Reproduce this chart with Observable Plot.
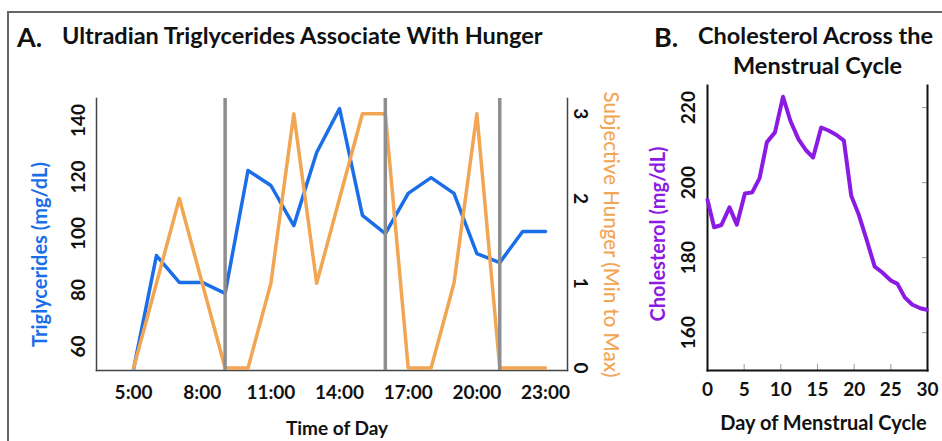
<!DOCTYPE html>
<html><head><meta charset="utf-8">
<script src="https://cdn.jsdelivr.net/npm/d3@7"></script>
<script src="https://cdn.jsdelivr.net/npm/@observablehq/plot@0.6"></script>
<style>
body{margin:0;background:#fff;font-family:Lato,sans-serif;}
#fig{position:relative;width:942px;height:441px;overflow:hidden;background:#fff;}
#border{position:absolute;left:7px;top:11px;width:1000px;height:1000px;border-left:2px solid #666;border-top:2px solid #666;}
.t{position:absolute;font-weight:700;color:#111;white-space:nowrap;line-height:1;font-family:Lato,sans-serif;}
.plot{position:absolute;top:0;}
</style></head><body>
<div id="fig">
  <div id="border"></div>
  <div class="t" style="left:17px;top:23px;font-size:27px">A.</div>
  <div class="t" style="left:62px;top:24px;font-size:23.5px">Ultradian Triglycerides Associate With Hunger</div>
  <div class="t" style="left:654px;top:23px;font-size:27px">B.</div>
  <div class="t" style="left:698px;top:24px;font-size:23.5px">Cholesterol Across the</div>
  <div class="t" style="left:733px;top:54px;font-size:23.5px">Menstrual Cycle</div>
</div>
<script>
// Panel A data
const hours = [5,6,7,8,9,10,11,12,13,14,15,16,17,18,19,20,21,22,23];
const triglycerides = [52,92.2,82.7,82.7,78.8,122.3,117,102.8,128.7,144.2,106.4,100,114.2,119.8,114.2,92.9,89.7,100.7,100.7];
const hunger = [0,1,2,1,0,0,1,3,1,2,3,3,0,0,1,3,0,0,0];
const mealTimes = [9,16,21];
const hourTicks = [5,8,11,14,17,20,23];
const trigTicks = [60,80,100,120,140];
const hungerTicks = [0,1,2,3];
// Panel B data
const cycleDays = [0,0.9,1.9,3.0,4.0,5.1,6.1,7.1,8.1,9.2,10.3,11.3,12.4,13.4,14.4,15.5,16.5,17.6,18.6,19.6,20.6,21.6,22.8,23.8,25.0,25.9,26.9,27.9,29.0,29.9];
const cholesterol = [195.4,188.1,188.7,193.4,188.8,197.1,197.4,201.2,210.8,213.4,222.9,216.5,211.6,208.7,206.7,214.7,213.9,212.7,211.2,196.5,191.6,185.4,177.6,176.1,173.9,173.0,169.4,167.5,166.5,166.1];
const dayTicks = [0,5,10,15,20,25,30];
const cholTicks = [160,180,200,220];

const BLUE = "#1a6ee8", ORANGE = "#f2a552", PURPLE = "#8b1ae3", GRAY = "#8e8e8e";
const FONT = "Lato, sans-serif";
const TICK_FS = 19;

const trigData = hours.map((h, i) => ({h, v: triglycerides[i]}));
const hungerData = hours.map((h, i) => ({h, v: hunger[i]}));
const cholData = cycleDays.map((d, i) => ({d, v: cholesterol[i]}));

const commonA = {width: 640, height: 441, marginLeft: 96, marginRight: 73, marginTop: 98, marginBottom: 71,
  style: {background: "transparent", fontFamily: FONT, overflow: "visible"}};
const xDomainA = [3.38, 23.96];

const plotTrig = Plot.plot({
  ...commonA,
  x: {domain: xDomainA, label: null},
  y: {domain: [51.5, 147.8], label: null},
  marks: [
    Plot.frame({anchor: "left", stroke: "#444", strokeWidth: 1.5}),
    Plot.frame({anchor: "bottom", stroke: "#444", strokeWidth: 1.5}),
    Plot.axisY(trigTicks, {anchor: "left", rotate: -90, textAnchor: "middle", tickSize: 0, tickPadding: 18, fontSize: TICK_FS, fontWeight: 700, fill: "#111", label: null}),
    Plot.axisX(hourTicks, {anchor: "bottom", tickSize: 0, tickPadding: 15, tickFormat: d => d + ":00", fontSize: TICK_FS, fontWeight: 700, fill: "#111", label: null}),
    Plot.line(trigData, {x: "h", y: "v", stroke: BLUE, strokeWidth: 3.5}),
    Plot.text(["Triglycerides (mg/dL)"], {frameAnchor: "left", rotate: -90, textAnchor: "middle", lineAnchor: "middle", dx: -56, dy: 20, fill: BLUE, fontSize: 20, fontWeight: 700}),
    Plot.text(["Time of Day"], {frameAnchor: "bottom", textAnchor: "middle", lineAnchor: "middle", dx: 5, dy: 58, fill: "#111", fontSize: 19, fontWeight: 700})
  ]
});

const plotHunger = Plot.plot({
  ...commonA,
  x: {domain: xDomainA, label: null, axis: null},
  y: {domain: [-0.03, 3.18], label: null},
  marks: [
    Plot.frame({anchor: "right", stroke: "#444", strokeWidth: 1.5}),
    Plot.axisY(hungerTicks, {anchor: "right", rotate: 90, textAnchor: "middle", tickSize: 0, tickPadding: 13, tickFormat: d => String(d), fontSize: TICK_FS, fontWeight: 700, fill: "#111", label: null}),
    Plot.line(hungerData, {x: "h", y: "v", stroke: ORANGE, strokeWidth: 3.5}),
    Plot.ruleX(mealTimes, {stroke: GRAY, strokeWidth: 3.5}),
    Plot.text(["Subjective Hunger (Min to Max)"], {frameAnchor: "right", rotate: 90, textAnchor: "middle", lineAnchor: "middle", dx: 43, fill: ORANGE, fontSize: 20.5, fontWeight: 500})
  ]
});

const plotChol = Plot.plot({
  width: 322, height: 441, marginLeft: 87, marginRight: 15, marginTop: 85, marginBottom: 71,
  style: {background: "transparent", fontFamily: FONT, overflow: "visible"},
  x: {domain: [0, 30], label: null},
  y: {domain: [149.9, 225.9], label: null},
  marks: [
    Plot.axisY(cholTicks, {anchor: "right", tickSize: -6, tickFormat: () => "", stroke: "#999", label: null}),
    Plot.axisX(dayTicks.slice(1, -1), {anchor: "bottom", tickSize: -6, tickFormat: () => "", stroke: "#999", label: null}),
    Plot.frame({anchor: "left", stroke: "#111", strokeWidth: 2}),
    Plot.frame({anchor: "right", stroke: "#111", strokeWidth: 2}),
    Plot.frame({anchor: "bottom", stroke: "#111", strokeWidth: 2}),
    Plot.axisY(cholTicks, {anchor: "left", rotate: -90, textAnchor: "middle", tickSize: 0, tickPadding: 19, fontSize: TICK_FS, fontWeight: 700, fill: "#111", label: null}),
    Plot.axisX(dayTicks, {anchor: "bottom", tickSize: 0, tickPadding: 12, fontSize: TICK_FS, fontWeight: 700, fill: "#111", label: null}),
    Plot.line(cholData, {x: "d", y: "v", stroke: PURPLE, strokeWidth: 4}),
    Plot.text(["Cholesterol (mg/dL)"], {frameAnchor: "left", rotate: -90, textAnchor: "middle", lineAnchor: "middle", dx: -49, dy: 6, fill: PURPLE, fontSize: 20, fontWeight: 700}),
    Plot.text(["Day of Menstrual Cycle"], {frameAnchor: "bottom", textAnchor: "middle", lineAnchor: "middle", dx: 6, dy: 53, fill: "#111", fontSize: 20, fontWeight: 700})
  ]
});

const fig = document.getElementById("fig");
plotTrig.classList.add("plot"); plotTrig.style.left = "0px";
plotHunger.classList.add("plot"); plotHunger.style.left = "0px";
plotChol.classList.add("plot"); plotChol.style.left = "620px";
fig.appendChild(plotTrig);
fig.appendChild(plotHunger);
fig.appendChild(plotChol);
</script>
</body></html>
